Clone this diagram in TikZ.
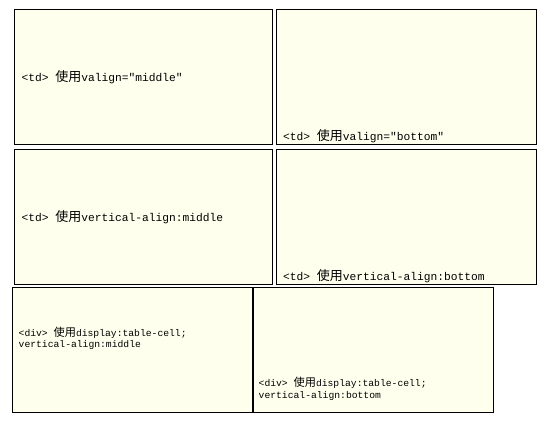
\documentclass[tikz,border=0pt]{standalone}
\usepackage{fontspec}
\setmonofont{Liberation Mono}
\newfontfamily\cjk{Noto Sans CJK SC}
\definecolor{cellbg}{RGB}{255,255,238}
\tikzset{
  cell/.style={draw=black, fill=cellbg, line width=1pt},
  tdtext/.style={anchor=base west, inner sep=0pt, font=\ttfamily\fontsize{11.25}{13}\selectfont},
  divtext/.style={anchor=base west, inner sep=0pt, align=left, font=\ttfamily\fontsize{9.7}{11.5}\selectfont},
}
\newcommand{\shiyong}[1]{{\cjk\fontsize{#1}{#1}\selectfont 使用}}
\begin{document}
\begin{tikzpicture}[x=1pt,y=-1pt]
\useasboundingbox (0,0) rectangle (552,424);
% table cells
\draw[cell] (14.5,9.5) rectangle (272.5,144.5);
\draw[cell] (276.5,9.5) rectangle (536.5,144.5);
\draw[cell] (14.5,149.5) rectangle (272.5,284.5);
\draw[cell] (276.5,149.5) rectangle (536.5,284.5);
% divs
\draw[cell] (12.5,287.5) rectangle (252.5,412.5);
\draw[cell] (253.5,287.5) rectangle (493.5,412.5);
% texts
\node[tdtext] (t1) at (21.5,81) {<td> \shiyong{13}valign="middle"};
\node[tdtext] (t2) at (283,140) {<td> \shiyong{13}valign="bottom"};
\node[tdtext] (t3) at (21.5,221) {<td> \shiyong{13}vertical-align:middle};
\node[tdtext] (t4) at (283,280.5) {<td> \shiyong{13}vertical-align:bottom};
\node[divtext] (d1) at (18.5,347.5) {<div> \shiyong{11.2}display:table-cell;\\vertical-align:middle};
\node[divtext] (d2) at (258.5,398) {<div> \shiyong{11.2}display:table-cell;\\vertical-align:bottom};
\end{tikzpicture}
\end{document}
